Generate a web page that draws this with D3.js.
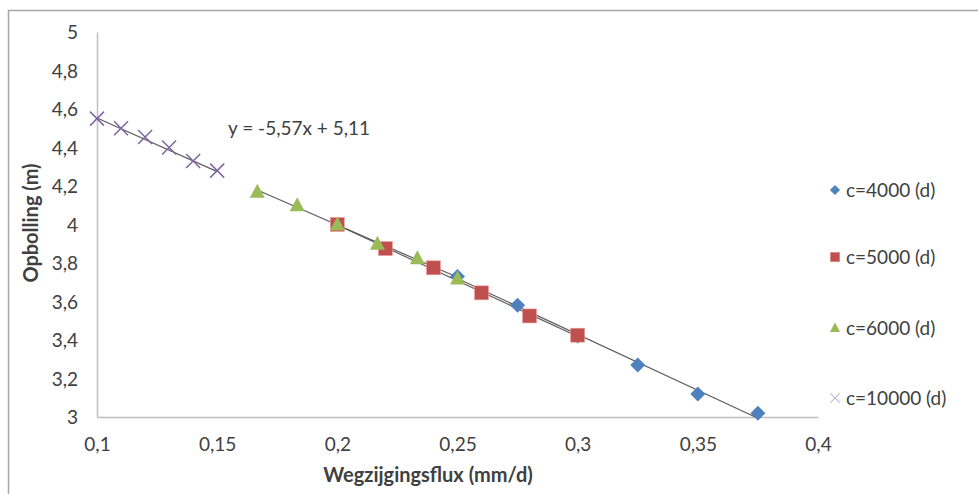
<!DOCTYPE html>
<html>
<head>
<meta charset="utf-8">
<script src="https://cdn.jsdelivr.net/npm/d3@7"></script>
<style>
  html, body { margin: 0; padding: 0; background: #fff; }
  svg { display: block; }
  text { font-family: Lato, "Open Sans", "Liberation Sans", sans-serif; fill: #404040; }
</style>
</head>
<body>
<svg id="chart" width="978" height="494"></svg>
<script>
// Opbolling versus wegzijgingsflux for four values of the drainage resistance c
const seriesNames = ["c=4000 (d)", "c=5000 (d)", "c=6000 (d)", "c=10000 (d)"];
const flux4000  = [0.25, 0.275, 0.3, 0.325, 0.35, 0.375];
const head4000  = [3.73, 3.58, 3.42, 3.27, 3.12, 3.02];
const flux5000  = [0.2, 0.22, 0.24, 0.26, 0.28, 0.3];
const head5000  = [4.00, 3.875, 3.775, 3.645, 3.525, 3.425];
const flux6000  = [0.1667, 0.1833, 0.2, 0.2167, 0.2333, 0.25];
const head6000  = [4.17, 4.10, 4.00, 3.90, 3.825, 3.72];
const flux10000 = [0.1, 0.11, 0.12, 0.13, 0.14, 0.15];
const head10000 = [4.55, 4.50, 4.455, 4.40, 4.33, 4.28];
// trendline equation shown for the c=10000 series
const trendSlope = -5.57;
const trendIntercept = 5.11;
const xTicks = [0.1, 0.15, 0.2, 0.25, 0.3, 0.35, 0.4];
const yTicks = [3, 3.2, 3.4, 3.6, 3.8, 4, 4.2, 4.4, 4.6, 4.8, 5];

const colors = ["#4F81BD", "#C0504D", "#9BBB59", "#8064A2"];
const symbols = ["diamond", "square", "triangle", "cross"];
const FONT = 'Lato, "Open Sans", "Liberation Sans", sans-serif';
const FS = 19;
const FS_TITLE = 20;

const svg = d3.select("#chart");
const fmt = v => String(+v.toFixed(2)).replace(".", ",");

const x = d3.scaleLinear().domain([0.1, 0.4]).range([97, 818]);
const y = d3.scaleLinear().domain([3, 5]).range([417, 32]);

// partial outer frame (top and left edges)
svg.append("path").attr("d", "M8.5,494 V10.5 H978")
  .attr("fill", "none").attr("stroke", "#a6a6a6").attr("stroke-width", 1.5);

// axes
const xAxis = svg.append("g").attr("transform", `translate(0,${y(3)})`)
  .call(d3.axisBottom(x).tickValues(xTicks).tickSize(0).tickPadding(21).tickFormat(fmt));
const yAxis = svg.append("g").attr("transform", `translate(${x(0.1)},0)`)
  .call(d3.axisLeft(y).tickValues(yTicks).tickSize(0).tickPadding(19).tickFormat(fmt));
[xAxis, yAxis].forEach(g => {
  g.select(".domain").attr("stroke", "#bfbfbf").attr("stroke-width", 1.5);
  g.selectAll("text").attr("font-size", FS).attr("fill", "#404040")
    .style("font-family", FONT);
});
yAxis.selectAll("text").attr("dy", "0.35em");

// axis titles
svg.append("text").attr("x", 428).attr("y", 482).attr("text-anchor", "middle")
  .attr("font-size", FS_TITLE).attr("font-weight", "bold").text("Wegzijgingsflux (mm/d)");
svg.append("text").attr("transform", "translate(38,223) rotate(-90)")
  .attr("text-anchor", "middle").attr("font-size", FS_TITLE).attr("font-weight", "bold")
  .text("Opbolling (m)");

const series = [
  { xs: flux4000, ys: head4000 },
  { xs: flux5000, ys: head5000 },
  { xs: flux6000, ys: head6000 },
  { xs: flux10000, ys: head10000 }
];

// least-squares fit for the trendlines
function fit(xs, ys) {
  const mx = d3.mean(xs), my = d3.mean(ys);
  const b = d3.sum(xs, (v, i) => (v - mx) * (ys[i] - my)) / d3.sum(xs, v => (v - mx) ** 2);
  return { slope: b, intercept: my - b * mx };
}

const trendG = svg.append("g");
series.forEach((s, i) => {
  const f = i === 3 ? { slope: trendSlope, intercept: trendIntercept } : fit(s.xs, s.ys);
  const x0 = d3.min(s.xs), x1 = d3.max(s.xs);
  trendG.append("line")
    .attr("x1", x(x0)).attr("y1", y(f.slope * x0 + f.intercept))
    .attr("x2", x(x1)).attr("y2", y(f.slope * x1 + f.intercept))
    .attr("stroke", "#4d4d4d").attr("stroke-width", 1.2).attr("opacity", 0.9);
});

function drawMarker(g, type, color) {
  if (type === "diamond") {
    g.append("path").attr("d", "M0,-7.5 L7.5,0 L0,7.5 L-7.5,0 Z").attr("fill", color);
  } else if (type === "square") {
    g.append("rect").attr("x", -7).attr("y", -7).attr("width", 14).attr("height", 14)
      .attr("fill", color).attr("stroke", "#e8a09e").attr("stroke-width", 0.6);
  } else if (type === "triangle") {
    g.append("path").attr("d", "M0,-8 L7.5,6 L-7.5,6 Z").attr("fill", color);
  } else {
    g.append("path").attr("d", "M-7,-7 L7,7 M-7,7 L7,-7")
      .attr("stroke", color).attr("stroke-width", 1.5).attr("fill", "none");
  }
}

// markers: later series drawn on top
series.forEach((s, i) => {
  s.xs.forEach((xv, k) => {
    const g = svg.append("g").attr("transform", `translate(${x(xv)},${y(s.ys[k])})`);
    drawMarker(g, symbols[i], colors[i]);
  });
});

// trendline equation
svg.append("text").attr("x", 228).attr("y", 135).attr("font-size", FS)
  .text(`y = ${fmt(trendSlope)}x + ${fmt(trendIntercept)}`);

// legend
const legendY = [190, 257, 328, 398];
seriesNames.forEach((name, i) => {
  const g = svg.append("g").attr("transform", `translate(835,${legendY[i]})`);
  const m = g.append("g").attr("transform", "scale(0.68)");
  drawMarker(m, symbols[i], i === 3 ? "#b6a9cc" : colors[i]);
  g.append("text").attr("x", 11).attr("y", 0).attr("dy", "0.35em")
    .attr("font-size", FS).text(name);
});
</script>
</body>
</html>
